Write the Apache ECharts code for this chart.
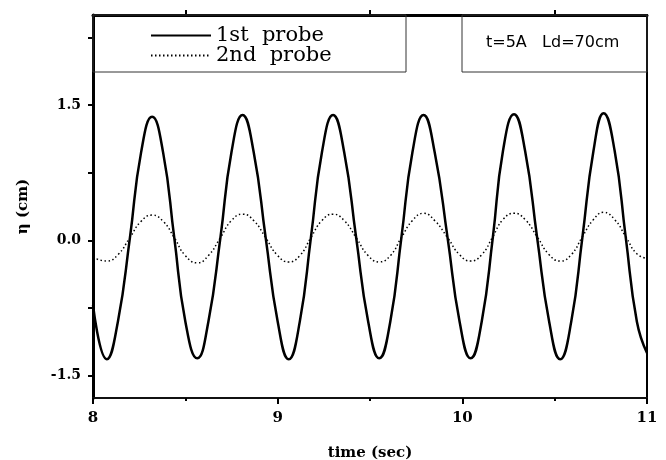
<!DOCTYPE html>
<html>
<head>
<meta charset="utf-8">
<script src="https://cdn.jsdelivr.net/npm/echarts@6/dist/echarts.min.js"></script>
<style>
  html, body { margin: 0; padding: 0; background: #fff; }
  #main { width: 666px; height: 460px; }
</style>
</head>
<body>
<div id="main"></div>
<script>
// time (sec)
var times = [
  8.00, 8.075, 8.135, 8.20, 8.26, 8.32, 8.38, 8.44, 8.50, 8.565,
  8.625, 8.69, 8.75, 8.81, 8.87, 8.935, 9.00, 9.06, 9.12, 9.18,
  9.24, 9.30, 9.36, 9.425, 9.49, 9.55, 9.61, 9.67, 9.73, 9.79,
  9.85, 9.92, 9.985, 10.045, 10.105, 10.165, 10.22, 10.28, 10.34, 10.405,
  10.47, 10.53, 10.59, 10.65, 10.71, 10.765, 10.825, 10.885, 10.945, 11.00
];
// eta (cm), 1st probe
var probe1 = [
  -0.72, -1.32, -0.90, 0.03, 0.97, 1.37, 0.97, 0.03, -0.90, -1.31,
  -0.90, 0.03, 0.98, 1.39, 0.98, 0.03, -0.90, -1.32, -0.90, 0.03,
  0.98, 1.39, 0.98, 0.03, -0.90, -1.31, -0.90, 0.03, 0.98, 1.39,
  0.98, 0.03, -0.90, -1.31, -0.90, 0.03, 0.99, 1.40, 0.99, 0.03,
  -0.90, -1.32, -0.90, 0.03, 0.99, 1.41, 0.99, 0.03, -0.90, -1.25
];
// eta (cm), 2nd probe
var probe2 = [
  -0.19, -0.23, -0.16, 0.03, 0.21, 0.28, 0.21, 0.03, -0.17, -0.25,
  -0.17, 0.03, 0.22, 0.29, 0.22, 0.03, -0.17, -0.24, -0.17, 0.03,
  0.22, 0.29, 0.22, 0.03, -0.17, -0.24, -0.17, 0.03, 0.22, 0.30,
  0.22, 0.03, -0.16, -0.23, -0.16, 0.04, 0.23, 0.30, 0.23, 0.04,
  -0.16, -0.23, -0.16, 0.04, 0.23, 0.31, 0.23, 0.04, -0.15, -0.20
];
var seriesNames = ['1st  probe', '2nd  probe'];
var yLabels = [-1.5, 0, 1.5];
var yTicks = [-1.5, -0.75, 0, 0.75, 1.5, 2.25];

function pairs(vals) {
  return times.map(function (t, i) { return [t, vals[i]]; });
}

var serif = 'DejaVu Serif';
var myChart = echarts.init(document.getElementById('main'));
var option = {
  backgroundColor: '#fff',
  animation: false,
  grid: { left: 93, right: 19, top: 15, bottom: 62, outerBoundsMode: 'none', containLabel: false },
  legend: {
    left: 145, top: 20, orient: 'vertical',
    itemWidth: 60, itemHeight: 12, itemGap: -1,
    itemStyle: { opacity: 0 },
    textStyle: { fontFamily: serif, fontSize: 21, color: '#000' },
    data: seriesNames
  },
  xAxis: [{
    type: 'value', min: 8, max: 11, interval: 1,
    name: 'time (sec)', nameLocation: 'middle', nameGap: 48,
    nameTextStyle: { fontFamily: serif, fontWeight: 'bold', fontSize: 15, color: '#000' },
    axisLine: { onZero: false, lineStyle: { color: '#111', width: 2 } },
    axisTick: { length: 6, lineStyle: { color: '#000', width: 2 } },
    minorTick: { show: true, splitNumber: 2, length: 3, lineStyle: { color: '#000', width: 2 } },
    axisLabel: { fontFamily: serif, fontWeight: 'bold', fontSize: 15, color: '#000', margin: 13 },
    splitLine: { show: false }
  }, {
    // top frame: only the half-second ticks show there
    type: 'value', position: 'top', min: 8, max: 11, interval: 1,
    axisLine: { onZero: false, lineStyle: { color: '#000', width: 3 } },
    axisTick: { show: false },
    minorTick: { show: true, splitNumber: 2, length: 5, lineStyle: { color: '#000', width: 2 } },
    axisLabel: { show: false },
    splitLine: { show: false }
  }],
  yAxis: [{
    type: 'value', min: -1.75, max: 2.5,
    name: 'η (cm)', nameLocation: 'middle', nameGap: 62,
    nameTextStyle: { fontFamily: serif, fontWeight: 'bold', fontSize: 15, color: '#000' },
    axisLine: { show: true, onZero: false, lineStyle: { color: '#000', width: 3 } },
    axisTick: { show: true, customValues: yTicks, length: 5, lineStyle: { color: '#000', width: 2 } },
    axisLabel: {
      customValues: yLabels, fontFamily: serif, fontWeight: 'bold', fontSize: 14, color: '#000', margin: 12,
      formatter: function (v) { return v.toFixed(1); }
    },
    splitLine: { show: false }
  }, {
    type: 'value', position: 'right', min: -1.75, max: 2.5,
    axisLine: { show: true, onZero: false, lineStyle: { color: '#000', width: 2 } },
    axisTick: { show: false },
    axisLabel: { show: false },
    splitLine: { show: false }
  }],
  graphic: [
    { type: 'rect', shape: { x: 93, y: 15, width: 313, height: 57 },
      style: { fill: 'none', stroke: '#333', lineWidth: 1 }, z: 10 },
    { type: 'rect', shape: { x: 462, y: 15, width: 185, height: 57 },
      style: { fill: 'none', stroke: '#333', lineWidth: 1 }, z: 10 },
    { type: 'text', left: 486, top: 35, z: 10,
      style: { text: 't=5A   Ld=70cm', font: '16px "DejaVu Sans"', fill: '#000' } }
  ],
  series: [{
    name: seriesNames[0], type: 'line', data: pairs(probe1),
    smooth: 0.5, symbol: 'none',
    lineStyle: { color: '#000', width: 2.5 },
    itemStyle: { color: '#000' }
  }, {
    name: seriesNames[1], type: 'line', data: pairs(probe2),
    smooth: 0.5, symbol: 'none',
    lineStyle: { color: '#000', width: 1.5, type: [1.5, 2.5] },
    itemStyle: { color: '#000' }
  }]
};
myChart.setOption(option);
</script>
</body>
</html>
